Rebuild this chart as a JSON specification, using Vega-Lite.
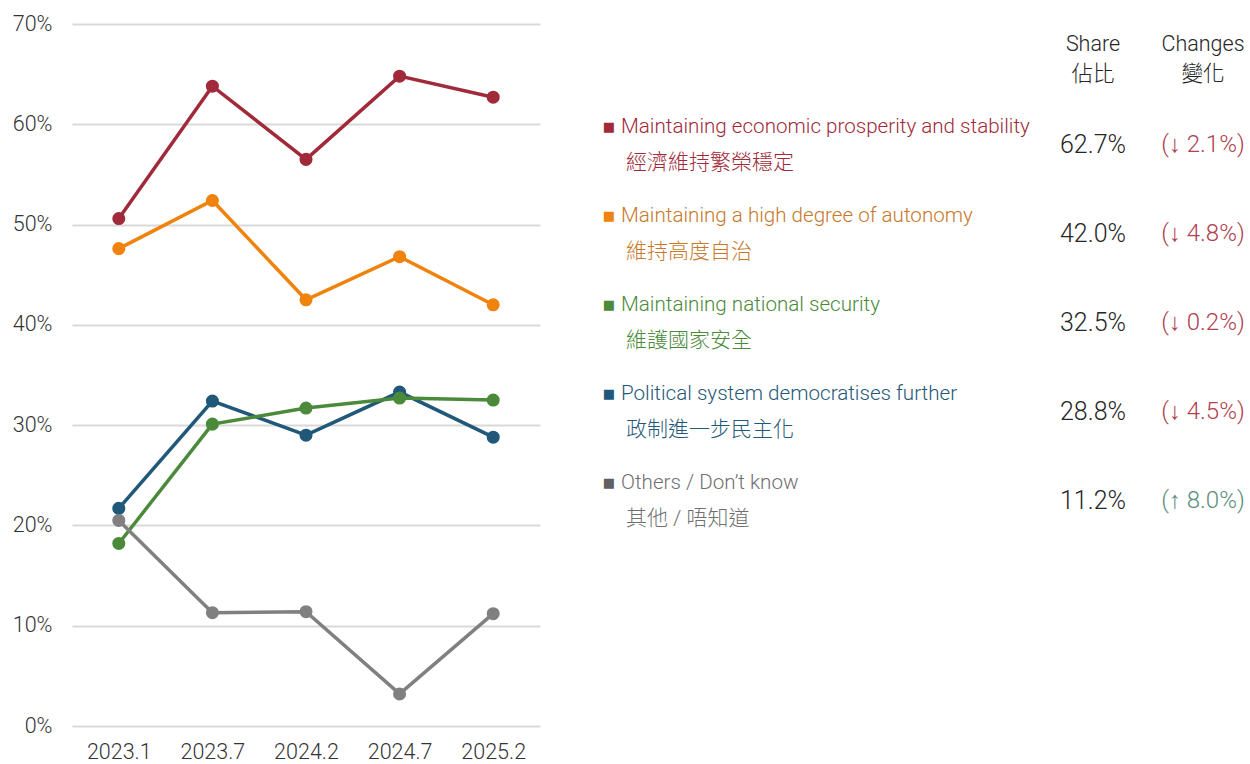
{
  "$schema": "https://vega.github.io/schema/vega-lite/v6.json",
  "padding": {"left": 12, "top": 13, "right": 0, "bottom": 0},
  "background": "white",
  "config": {
    "view": {"stroke": null},
    "font": "Roboto, 'Liberation Sans', 'Noto Sans CJK TC', sans-serif",
    "axis": {"labelFont": "Roboto, 'Liberation Sans', sans-serif", "labelFontWeight": 300, "labelFontSize": 21.5, "labelColor": "#333333"},
    "text": {"font": "Roboto, 'Liberation Sans', 'Noto Sans CJK TC', sans-serif", "fontWeight": 300, "fontSize": 21}
  },
  "resolve": {"scale": {"color": "independent"}},
  "datasets": {
    "trend": [
      {"wave": "2023.1", "cat": "Maintaining economic prosperity and stability", "value": 50.6},
      {"wave": "2023.7", "cat": "Maintaining economic prosperity and stability", "value": 63.8},
      {"wave": "2024.2", "cat": "Maintaining economic prosperity and stability", "value": 56.5},
      {"wave": "2024.7", "cat": "Maintaining economic prosperity and stability", "value": 64.8},
      {"wave": "2025.2", "cat": "Maintaining economic prosperity and stability", "value": 62.7},
      {"wave": "2023.1", "cat": "Maintaining a high degree of autonomy", "value": 47.6},
      {"wave": "2023.7", "cat": "Maintaining a high degree of autonomy", "value": 52.4},
      {"wave": "2024.2", "cat": "Maintaining a high degree of autonomy", "value": 42.5},
      {"wave": "2024.7", "cat": "Maintaining a high degree of autonomy", "value": 46.8},
      {"wave": "2025.2", "cat": "Maintaining a high degree of autonomy", "value": 42.0},
      {"wave": "2023.1", "cat": "Political system democratises further", "value": 21.7},
      {"wave": "2023.7", "cat": "Political system democratises further", "value": 32.4},
      {"wave": "2024.2", "cat": "Political system democratises further", "value": 29.0},
      {"wave": "2024.7", "cat": "Political system democratises further", "value": 33.3},
      {"wave": "2025.2", "cat": "Political system democratises further", "value": 28.8},
      {"wave": "2023.1", "cat": "Maintaining national security", "value": 18.2},
      {"wave": "2023.7", "cat": "Maintaining national security", "value": 30.1},
      {"wave": "2024.2", "cat": "Maintaining national security", "value": 31.7},
      {"wave": "2024.7", "cat": "Maintaining national security", "value": 32.7},
      {"wave": "2025.2", "cat": "Maintaining national security", "value": 32.5},
      {"wave": "2023.1", "cat": "Others / Don’t know", "value": 20.5},
      {"wave": "2023.7", "cat": "Others / Don’t know", "value": 11.3},
      {"wave": "2024.2", "cat": "Others / Don’t know", "value": 11.4},
      {"wave": "2024.7", "cat": "Others / Don’t know", "value": 3.2},
      {"wave": "2025.2", "cat": "Others / Don’t know", "value": 11.2}
    ],
    "table": [
      {"cat": "Maintaining economic prosperity and stability", "en": "Maintaining economic prosperity and stability", "zh": "經濟維持繁榮穩定", "share": "62.7%", "change": "(↓ 2.1%)", "dir": "down"},
      {"cat": "Maintaining a high degree of autonomy", "en": "Maintaining a high degree of autonomy", "zh": "維持高度自治", "share": "42.0%", "change": "(↓ 4.8%)", "dir": "down"},
      {"cat": "Maintaining national security", "en": "Maintaining national security", "zh": "維護國家安全", "share": "32.5%", "change": "(↓ 0.2%)", "dir": "down"},
      {"cat": "Political system democratises further", "en": "Political system democratises further", "zh": "政制進一步民主化", "share": "28.8%", "change": "(↓ 4.5%)", "dir": "down"},
      {"cat": "Others / Don’t know", "en": "Others / Don’t know", "zh": "其他 / 唔知道", "share": "11.2%", "change": "(↑ 8.0%)", "dir": "up"}
    ]
  },
  "bounds": "flush",
  "spacing": 68,
  "hconcat": [
    {
      "width": 468,
      "height": 702,
      "data": {"name": "trend"},
      "mark": {"type": "line", "strokeWidth": 3.5, "point": {"size": 170, "filled": true, "opacity": 1}},
      "encoding": {
        "x": {"field": "wave", "type": "ordinal", "sort": null, "scale": {"type": "point", "padding": 0.5},
              "axis": {"title": null, "labelAngle": 0, "ticks": false, "domain": false, "grid": false, "labelPadding": 15}},
        "y": {"field": "value", "type": "quantitative", "scale": {"domain": [0, 70], "nice": false},
              "axis": {"title": null, "values": [0, 10, 20, 30, 40, 50, 60, 70], "labelExpr": "datum.value + '%'", "grid": true, "gridColor": "#d9d9d9", "gridWidth": 2, "domain": false, "ticks": false, "labelPadding": 20}},
        "color": {"field": "cat", "type": "nominal",
                  "scale": {"domain": ["Maintaining economic prosperity and stability", "Maintaining a high degree of autonomy", "Maintaining national security", "Political system democratises further", "Others / Don’t know"],
                            "range": ["#a02a3a", "#f0820e", "#4b8a3b", "#1f5878", "#808080"]},
                  "legend": null}
      }
    },
    {
      "width": 396,
      "height": 509,
      "data": {"name": "table"},
      "encoding": {
        "y": {"field": "cat", "type": "nominal", "axis": null,
              "scale": {"type": "point", "padding": 0.36, "domain": ["hdr", "Maintaining economic prosperity and stability", "Maintaining a high degree of autonomy", "Maintaining national security", "Political system democratises further", "Others / Don’t know"]}},
        "x": {"datum": "label", "type": "nominal", "scale": {"type": "band", "paddingInner": 0, "paddingOuter": 0}, "bandPosition": 0, "axis": null}
      },
      "layer": [
        {
          "mark": {"type": "text", "text": "■", "font": "DejaVu Sans", "fontWeight": "normal", "fontSize": 13, "align": "center", "baseline": "middle", "dx": 1, "dy": -18},
          "encoding": {
            "color": {"field": "cat", "type": "nominal", "legend": null,
                      "scale": {"domain": ["Maintaining economic prosperity and stability", "Maintaining a high degree of autonomy", "Maintaining national security", "Political system democratises further", "Others / Don’t know"],
                                "range": ["#a02a3a", "#f0820e", "#4b8a3b", "#1f5878", "#606060"]}}
          }
        },
        {
          "mark": {"type": "text", "align": "left", "baseline": "middle", "dx": 13, "dy": -18, "fontSize": 20.6},
          "encoding": {
            "text": {"field": "en", "type": "nominal"},
            "color": {"field": "cat", "type": "nominal", "legend": null,
                      "scale": {"domain": ["Maintaining economic prosperity and stability", "Maintaining a high degree of autonomy", "Maintaining national security", "Political system democratises further", "Others / Don’t know"],
                                "range": ["#a02a3a", "#c8782a", "#4b8a3b", "#1f5878", "#707070"]}}
          }
        },
        {
          "mark": {"type": "text", "align": "left", "baseline": "middle", "dx": 18, "dy": 18},
          "encoding": {
            "text": {"field": "zh", "type": "nominal"},
            "color": {"field": "cat", "type": "nominal", "legend": null,
                      "scale": {"domain": ["Maintaining economic prosperity and stability", "Maintaining a high degree of autonomy", "Maintaining national security", "Political system democratises further", "Others / Don’t know"],
                                "range": ["#a02a3a", "#c8782a", "#4b8a3b", "#1f5878", "#707070"]}}
          }
        }
      ],
      "resolve": {"scale": {"color": "independent"}}
    },
    {
      "width": 42,
      "height": 509,
      "encoding": {
        "y": {"field": "cat", "type": "nominal", "axis": null,
              "scale": {"type": "point", "padding": 0.36, "domain": ["hdr", "Maintaining economic prosperity and stability", "Maintaining a high degree of autonomy", "Maintaining national security", "Political system democratises further", "Others / Don’t know"]}}
      },
      "layer": [
        {
          "data": {"name": "table"},
          "mark": {"type": "text", "align": "center", "baseline": "middle", "color": "#262626", "fontSize": 25},
          "encoding": {"text": {"field": "share", "type": "nominal"}}
        },
        {
          "data": {"values": [{"cat": "hdr", "t": "Share\n佔比"}]},
          "mark": {"type": "text", "align": "center", "baseline": "middle", "color": "#262626", "fontSize": 21.5, "lineBreak": "\n", "lineHeight": 30, "dy": -11},
          "encoding": {"text": {"field": "t", "type": "nominal"}}
        }
      ]
    },
    {
      "width": 42,
      "height": 509,
      "encoding": {
        "y": {"field": "cat", "type": "nominal", "axis": null,
              "scale": {"type": "point", "padding": 0.36, "domain": ["hdr", "Maintaining economic prosperity and stability", "Maintaining a high degree of autonomy", "Maintaining national security", "Political system democratises further", "Others / Don’t know"]}}
      },
      "layer": [
        {
          "data": {"name": "table"},
          "mark": {"type": "text", "align": "center", "baseline": "middle", "fontSize": 24},
          "encoding": {
            "text": {"field": "change", "type": "nominal"},
            "color": {"field": "dir", "type": "nominal", "legend": null, "scale": {"domain": ["down", "up"], "range": ["#b0404f", "#5b8f7b"]}}
          }
        },
        {
          "data": {"values": [{"cat": "hdr", "t": "Changes\n變化"}]},
          "mark": {"type": "text", "align": "center", "baseline": "middle", "color": "#262626", "fontSize": 21.5, "lineBreak": "\n", "lineHeight": 30, "dy": -11},
          "encoding": {"text": {"field": "t", "type": "nominal"}}
        }
      ]
    }
  ]
}
